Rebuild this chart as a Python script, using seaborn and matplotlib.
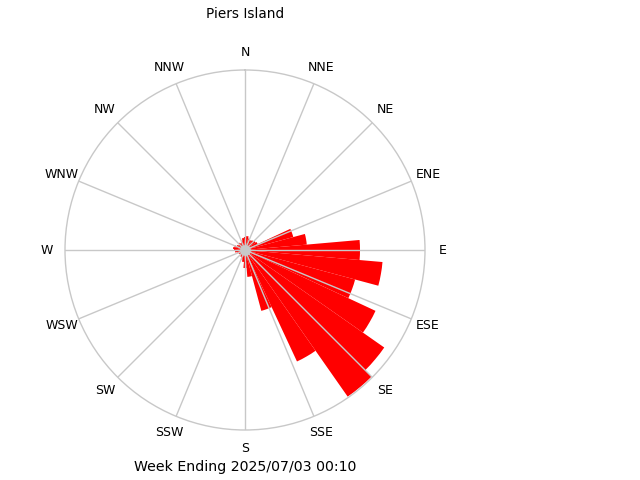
import matplotlib
matplotlib.use("Agg")
import matplotlib.pyplot as plt
import seaborn as sns
import numpy as np
import pandas as pd

# wind rose, 10 degree bins (bearing of bin centre)
bearings = list(range(0, 360, 10))
freq = [13, 14, 12, 11, 12, 13, 14, 50, 62, 115,
        138, 114, 144, 170, 179, 123, 63, 27, 18, 12,
        10, 8, 7, 6, 7, 8, 10, 11, 12, 11,
        9, 8, 9, 8, 10, 12]
rmax = 180

compass = ['N', 'NNE', 'NE', 'ENE', 'E', 'ESE', 'SE', 'SSE',
           'S', 'SSW', 'SW', 'WSW', 'W', 'WNW', 'NW', 'NNW']
title = 'Piers Island'
footer = 'Week Ending 2025/07/03 00:10'

sns.set_style("white")
plt.rcParams['font.family'] = ['DejaVu Sans']

fig = plt.figure(figsize=(6.4, 4.8), dpi=100)
ax = fig.add_axes([65 / 640, 50 / 480, 360 / 640, 360 / 480], projection='polar')
ax.set_theta_zero_location('N')
ax.set_theta_direction(-1)

df = pd.DataFrame({'theta': np.deg2rad(bearings), 'freq': freq})
sns.barplot(data=df, x='theta', y='freq', native_scale=True, width=1.0,
            color='#ff0000', saturation=1, linewidth=0, errorbar=None, ax=ax)

ax.set_ylim(0, rmax)
ax.set_xlabel('')
ax.set_ylabel('')
ax.set_xticks([])
ax.set_yticks([])
ax.grid(False)
ax.spines['polar'].set_color('#c8c8c8')
ax.spines['polar'].set_linewidth(1)

# spokes drawn on top of the bars
for i in range(16):
    a = np.deg2rad(i * 22.5)
    ax.plot([a, a], [0, rmax], color='#c8c8c8', lw=1, zorder=5)

# calm circle in the middle
ax.scatter([0], [0], s=60, color='#c8c8c8', zorder=6, linewidths=0)

for i, lab in enumerate(compass):
    ax.text(np.deg2rad(i * 22.5), 198, lab, ha='center', va='center',
            fontsize=9, color='black', clip_on=False)

fig.text(245 / 640, 1 - 14 / 480, title, ha='center', va='center',
         fontsize=9.8, color='black')
fig.text(245 / 640, 1 - 467 / 480, footer, ha='center', va='center',
         fontsize=10.2, color='black')

fig.savefig('out.png', dpi=100)
